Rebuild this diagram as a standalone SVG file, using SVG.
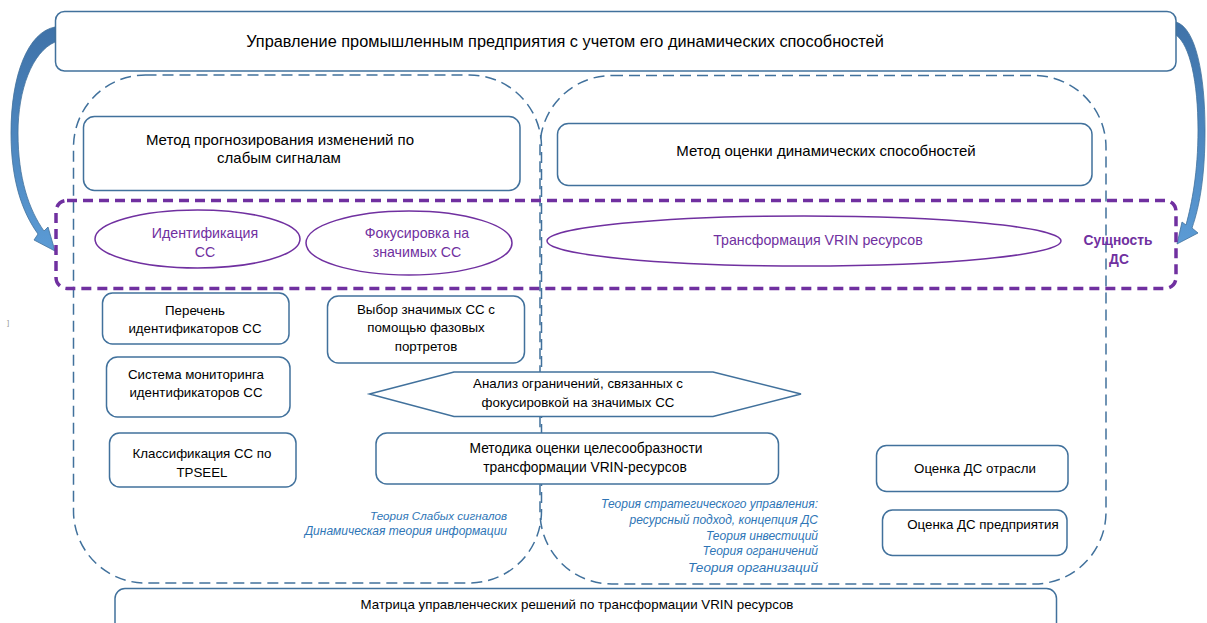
<svg xmlns="http://www.w3.org/2000/svg" width="1207" height="623" viewBox="0 0 1207 623">
<defs>
<style>
.box{fill:#fff;stroke:#41719c;stroke-width:1.5}
.cont{fill:none;stroke:#41719c;stroke-width:1.5;stroke-dasharray:11 6}
.ess{fill:none;stroke:#7030a0;stroke-width:3.5;stroke-dasharray:10 6}
.ell{fill:#fff;stroke:#7030a0;stroke-width:1.5}
.t{font-family:"Liberation Sans",Arial,sans-serif;font-size:13.3px;fill:#000;text-anchor:middle}
.tl{font-size:15px}
.p{font-family:"Liberation Sans",Arial,sans-serif;font-size:14.2px;fill:#7030a0;text-anchor:middle}
.pb{font-family:"Liberation Sans",Arial,sans-serif;font-size:13.8px;font-weight:bold;fill:#7030a0;text-anchor:middle}
.i{font-family:"Liberation Sans",Arial,sans-serif;font-size:12px;font-style:italic;fill:#2e75b6;text-anchor:end}
.arr{fill:url(#g);stroke:#41719c;stroke-width:0.8}
</style>
<linearGradient id="g" x1="0" y1="0" x2="0" y2="1">
<stop offset="0" stop-color="#3f72a8"/>
<stop offset="1" stop-color="#5b9bd5"/>
</linearGradient>
</defs>
<rect width="1207" height="623" fill="#fff"/>

<g id="containers">
<rect class="cont" x="73.5" y="75" width="468" height="508" rx="72" ry="72"/>
<rect class="cont" x="540" y="75.5" width="566" height="508.5" rx="72" ry="72"/>
</g>

<g id="connectors">
<path class="arr" d="M55,27 C28,32 11,75 11,133 C11,180 22,212 38,234 L34,240 L55,251 L48,227 L44,231 C29,210 18,178 18,133 C18,90 32,52 55,42 Z"/>
<path class="arr" d="M1176,22 C1196,28 1205,75 1205,130 C1205,175 1200,205 1192,228 L1198,233 L1177,244 L1182,222 L1186,225 C1192,203 1198,172 1198,130 C1198,82 1190,45 1176,35 Z"/>
</g>

<g id="top">
<rect class="box" x="55.5" y="11.5" width="1120.5" height="59.5" rx="9"/>
<text class="t" x="565" y="47" style="font-size:16.3px">Управление промышленным предприятия с учетом его динамических способностей</text>
</g>

<g id="method-forecast">
<rect class="box" x="83.5" y="116.5" width="436.5" height="74" rx="11"/>
<text class="t tl" x="280" y="145">Метод прогнозирования изменений по</text>
<text class="t tl" x="279" y="163">слабым сигналам</text>
</g>

<g id="method-eval">
<rect class="box" x="557.5" y="123.5" width="534.5" height="62" rx="11"/>
<text class="t tl" x="826" y="156">Метод оценки динамических способностей</text>
</g>

<g id="essence">
<rect class="ess" x="56" y="200.5" width="1120" height="88" rx="11"/>
<text class="pb" x="1118" y="245">Сущность</text>
<text class="pb" x="1119" y="264">ДС</text>
</g>

<g id="identification">
<ellipse class="ell" cx="197.5" cy="239" rx="102.5" ry="29"/>
<text class="p" x="205" y="238">Идентификация</text>
<text class="p" x="205" y="257">СС</text>
</g>

<g id="focus">
<ellipse class="ell" cx="409" cy="243" rx="103" ry="32"/>
<text class="p" x="417" y="238">Фокусировка на</text>
<text class="p" x="417" y="257">значимых СС</text>
</g>

<g id="transform">
<ellipse class="ell" cx="804" cy="241" rx="257" ry="25"/>
<text class="p" x="818" y="245">Трансформация VRIN ресурсов</text>
</g>

<g id="list">
<rect class="box" x="102.5" y="293" width="186.5" height="51" rx="10"/>
<text class="t" x="195" y="315">Перечень</text>
<text class="t" x="195" y="333">идентификаторов СС</text>
</g>

<g id="choice">
<rect class="box" x="327.5" y="296" width="197" height="67" rx="11"/>
<text class="t" x="426" y="314">Выбор значимых СС с</text>
<text class="t" x="426" y="332">помощью фазовых</text>
<text class="t" x="426" y="351">портретов</text>
</g>

<g id="monitoring">
<rect class="box" x="106.5" y="357" width="183.5" height="60" rx="11"/>
<text class="t" x="196" y="379">Система мониторинга</text>
<text class="t" x="196" y="397">идентификаторов СС</text>
</g>

<g id="analysis">
<polygon class="box" points="369.5,394 454,372 713,372 801,394 713,416.5 454,416.5"/>
<text class="t" x="578" y="388">Анализ ограничений, связанных с</text>
<text class="t" x="578" y="407">фокусировкой на значимых СС</text>
</g>

<g id="classification">
<rect class="box" x="109.5" y="433" width="186.5" height="54" rx="10"/>
<text class="t" x="202" y="458">Классификация СС по</text>
<text class="t" x="202" y="477">TPSEEL</text>
</g>

<g id="methodology">
<rect class="box" x="376" y="433" width="402.5" height="51" rx="11"/>
<text class="t" x="586" y="453" style="font-size:13.8px">Методика оценки целесообразности</text>
<text class="t" x="585" y="472" style="font-size:13.8px">трансформации VRIN-ресурсов</text>
</g>

<g id="industry">
<rect class="box" x="876.5" y="445.5" width="191.5" height="46" rx="10"/>
<text class="t" x="975" y="473">Оценка ДС отрасли</text>
</g>

<g id="enterprise">
<rect class="box" x="882.5" y="510" width="184.5" height="45.5" rx="10"/>
<text class="t" x="983" y="529">Оценка ДС предприятия</text>
</g>

<g id="theories-left">
<text class="i" x="507" y="520" style="font-size:11.6px">Теория Слабых сигналов</text>
<text class="i" x="507" y="535">Динамическая теория информации</text>
</g>

<g id="theories-right">
<text class="i" x="818" y="508">Теория стратегического управления:</text>
<text class="i" x="818" y="524">ресурсный подход, концепция ДС</text>
<text class="i" x="818" y="540">Теория инвестиций</text>
<text class="i" x="818" y="555">Теория ограничений</text>
<text class="i" x="818" y="572" style="font-size:13.6px">Теория организаций</text>
</g>

<g id="matrix">
<rect class="box" x="115" y="588.5" width="941.5" height="50" rx="10"/>
<text class="t" x="577" y="609">Матрица управленческих решений по трансформации VRIN ресурсов</text>
</g>

<text x="7" y="325" style="font-family:'Liberation Sans',sans-serif;font-size:8px;fill:#999">]</text>
</svg>
